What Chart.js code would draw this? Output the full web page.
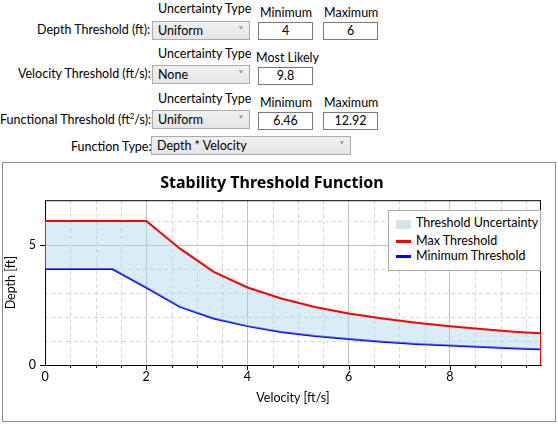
<!DOCTYPE html>
<html><head><meta charset="utf-8">
<script src="https://cdn.jsdelivr.net/npm/chart.js@4/dist/chart.umd.min.js"></script>
<style>
body{margin:0;width:558px;height:424px;background:#fff;font-family:Lato,sans-serif;font-size:12.5px;color:#000;position:relative;overflow:hidden}
.a{position:absolute;white-space:nowrap}
.sel{position:absolute;height:19px;border:1px solid #acacac;background:linear-gradient(#f0f0f0,#e5e5e5);box-sizing:border-box;padding-left:5px;line-height:17px}
.sel:after{content:"\02C5";position:absolute;right:6px;top:-1px;font-size:9px;color:#555}
.box{position:absolute;height:18px;border:1px solid #7a7a7a;box-sizing:border-box;text-align:center;line-height:16px;background:#fff}
#wrap{position:absolute;left:2px;top:162px;width:554px;height:260px;border:1px solid #888;box-sizing:border-box}
#leg{position:absolute;left:388px;top:210px;width:153px;height:61px;border:1px solid #aaa;background:#fff;box-sizing:border-box;font-size:12.5px}
#leg div{position:absolute;left:27px;white-space:nowrap}
#leg span{position:absolute;left:7px;width:15px;height:3px}
</style></head><body>
<div class="a" style="left:158px;top:1px">Uncertainty Type</div>
<div class="a" style="left:260px;top:5px">Minimum</div>
<div class="a" style="left:324px;top:5px">Maximum</div>
<div class="a" style="left:37px;top:22px">Depth Threshold (ft):</div>
<div class="sel" style="left:152px;top:21px;width:98px">Uniform</div>
<div class="box" style="left:258px;top:22px;width:55px">4</div>
<div class="box" style="left:323px;top:22px;width:55px">6</div>

<div class="a" style="left:158px;top:46px">Uncertainty Type</div>
<div class="a" style="left:256px;top:50px">Most Likely</div>
<div class="a" style="left:18px;top:66px">Velocity Threshold (ft/s):</div>
<div class="sel" style="left:152px;top:65px;width:98px">None</div>
<div class="box" style="left:258px;top:67px;width:55px">9.8</div>

<div class="a" style="left:158px;top:91px">Uncertainty Type</div>
<div class="a" style="left:260px;top:95px">Minimum</div>
<div class="a" style="left:324px;top:95px">Maximum</div>
<div class="a" style="left:0px;top:111px">Functional Threshold (ft<sup style="font-size:8px">2</sup>/s):</div>
<div class="sel" style="left:152px;top:110px;width:98px">Uniform</div>
<div class="box" style="left:258px;top:112px;width:55px">6.46</div>
<div class="box" style="left:323px;top:112px;width:55px">12.92</div>

<div class="a" style="left:71px;top:139px">Function Type:</div>
<div class="sel" style="left:151px;top:136px;width:200px">Depth * Velocity</div>

<div id="wrap"><canvas id="c" width="552" height="258"></canvas></div>
<div id="leg">
<span style="top:9px;height:9px;background:#cfe6ef"></span><div style="top:4px">Threshold Uncertainty</div>
<span style="top:29px;background:#ff0000"></span><div style="top:22px">Max Threshold</div>
<span style="top:44px;background:#0000ff"></span><div style="top:37px">Minimum Threshold</div>
</div>
<script>
const velocity=[0,0.667,1.333,2,2.667,3.333,4,4.667,5.333,6,6.667,7.333,8,8.667,9.333,9.8,9.8];
const maxThreshold=[6,6,6,6,4.85,3.88,3.23,2.77,2.42,2.15,1.94,1.76,1.62,1.49,1.38,1.32,0];
const minThreshold=[4,4,4,3.23,2.42,1.94,1.62,1.38,1.21,1.08,0.97,0.88,0.81,0.75,0.69,0.66,0];
const xMajor=[0,2,4,6,8];
const yMajor=[0,5];
const pts=a=>a.map((y,i)=>({x:velocity[i],y}));
const minorGrid={id:'mg',beforeDatasetsDraw(ch){
 const c=ch.ctx,{left,right,top,bottom}=ch.chartArea,xs=ch.scales.x,ys=ch.scales.y;
 c.save();c.strokeStyle='#d6d6d6';c.lineWidth=1;c.setLineDash([4,3]);
 for(let v=0.5;v<=9.8;v+=0.5){if(v%2===0)continue;const p=Math.round(xs.getPixelForValue(v))+0.5;c.beginPath();c.moveTo(p,top);c.lineTo(p,bottom);c.stroke();}
 for(let v=1;v<=6;v++){if(v===5)continue;const p=Math.round(ys.getPixelForValue(v))+0.5;c.beginPath();c.moveTo(left,p);c.lineTo(right,p);c.stroke();}
 c.setLineDash([]);c.strokeStyle='#000';
 for(let v=0.5;v<=9.8;v+=0.5){const p=Math.round(xs.getPixelForValue(v))+0.5;c.beginPath();c.moveTo(p,bottom);c.lineTo(p,bottom+(v%2===0?5:3));c.stroke();}
 c.strokeRect(left+0.5,top+0.5,right-left-1,bottom-top);
 c.restore();}};
new Chart(document.getElementById('c'),{type:'line',
 data:{datasets:[
  {data:pts(maxThreshold),borderColor:'#ff0000',borderWidth:2,pointRadius:0,fill:'+1',backgroundColor:'rgba(173,216,230,0.45)',tension:0},
  {data:pts(minThreshold),borderColor:'#0000ff',borderWidth:2,pointRadius:0,fill:false,tension:0}]},
 options:{responsive:false,animation:false,layout:{padding:{left:0,right:14,top:0,bottom:12}},
  plugins:{legend:{display:false},tooltip:{enabled:false},
   title:{display:true,text:'Stability Threshold Function',color:'#000',font:{family:'Noto Sans',size:16,weight:'bold'},padding:{top:11,bottom:7}}},
  scales:{
   x:{type:'linear',min:0,max:9.8,afterBuildTicks(s){s.ticks=xMajor.map(v=>({value:v}));},
    ticks:{color:'#000',font:{family:'Lato',size:12.5},padding:4,maxRotation:0},
    grid:{color:'#c0c0c0',drawTicks:false,tickLength:6},border:{color:'#000'},
    title:{display:true,text:'Velocity [ft/s]',color:'#000',font:{family:'Lato',size:12.5},padding:{top:2}}},
   y:{min:0,max:6.87,afterBuildTicks(s){s.ticks=yMajor.map(v=>({value:v}));},afterFit(s){s.width=42;},
    ticks:{color:'#000',font:{family:'Lato',size:12.5},padding:4},
    grid:{color:'#c0c0c0',tickLength:5,tickColor:'#000'},border:{color:'#000'},
    title:{display:true,text:'Depth [ft]',color:'#000',font:{family:'Lato',size:12.5},padding:0}}}},
 plugins:[minorGrid]});
</script></body></html>
